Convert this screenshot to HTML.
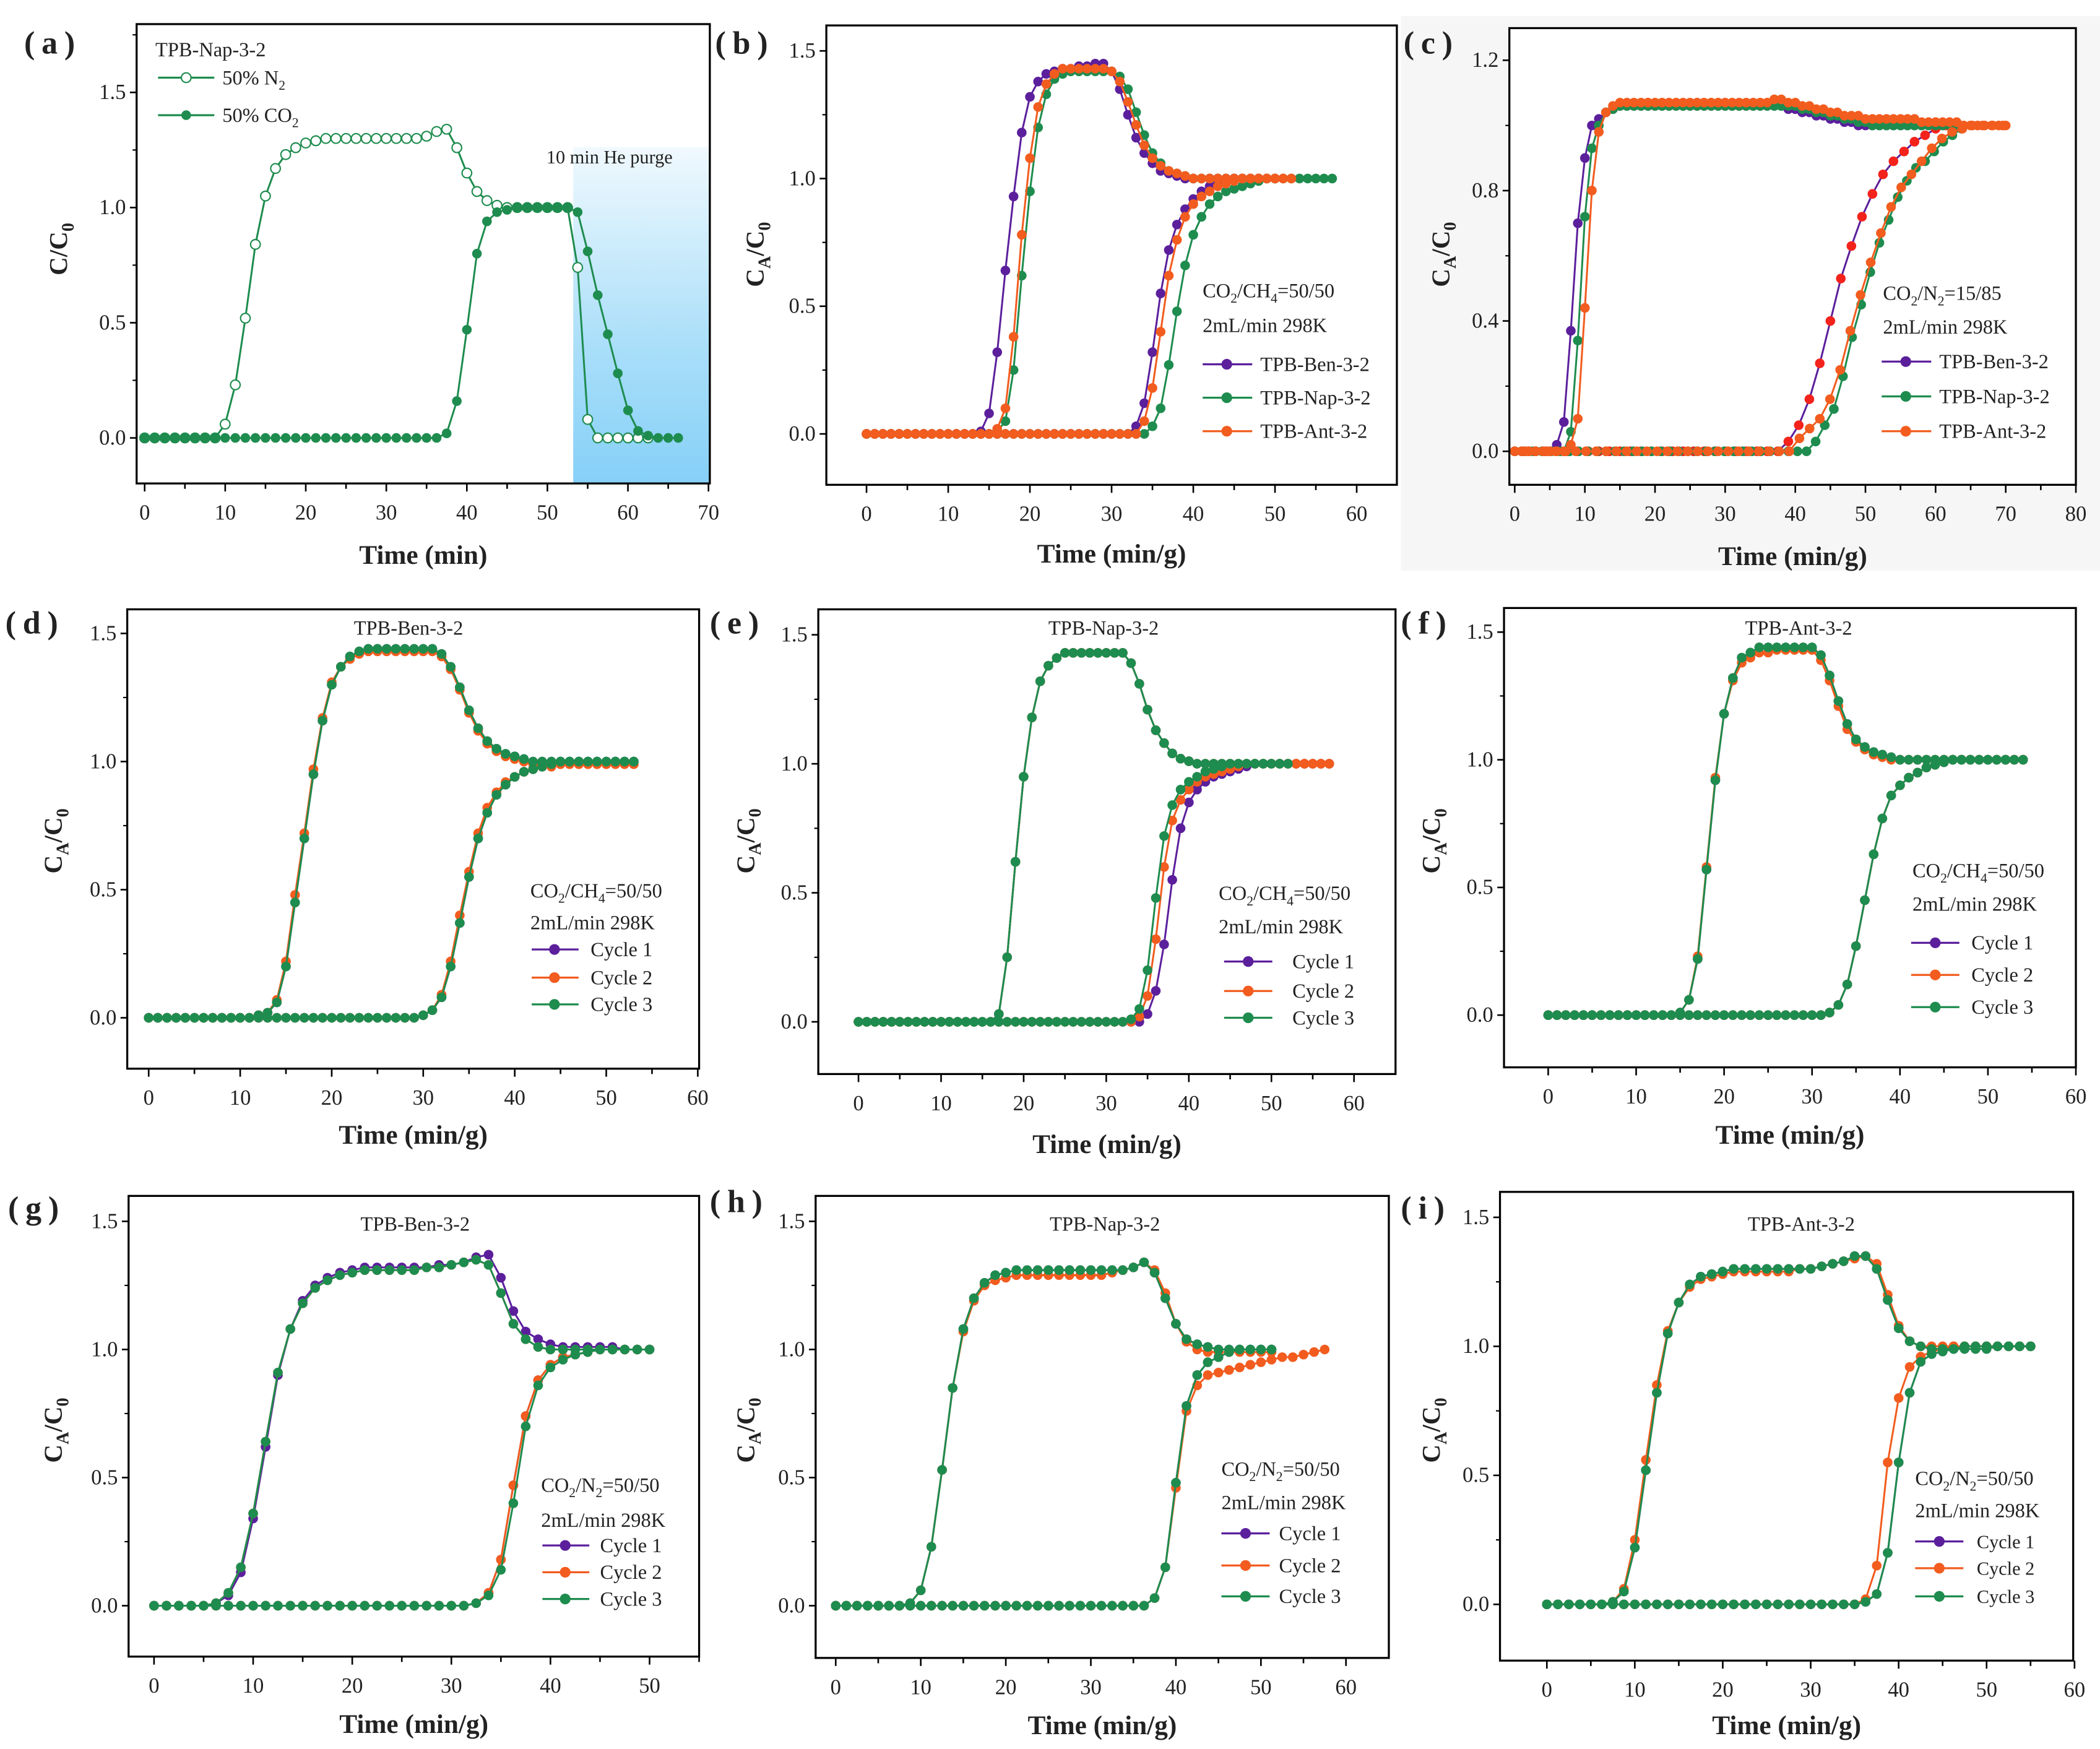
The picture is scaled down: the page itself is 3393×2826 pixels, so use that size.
<!DOCTYPE html>
<html><head><meta charset="utf-8">
<style>
html,body{margin:0;padding:0;background:#fff}
svg{display:block}
text{font-family:"Liberation Serif",serif;fill:#222}
.b{font-weight:bold}
</style></head>
<body>
<svg id="fig" xmlns="http://www.w3.org/2000/svg" width="3393" height="2826" viewBox="0 0 1568 1306">
<defs>
<linearGradient id="purge" x1="0" y1="0" x2="0" y2="1">
<stop offset="0" stop-color="#f0f9fe"/><stop offset="0.6" stop-color="#a9def9"/><stop offset="1" stop-color="#86d0f8"/>
</linearGradient>
</defs>
<rect x="0" y="0" width="1568" height="1306" fill="#fff"/>
<rect x="1046" y="12" width="522" height="414" fill="#f6f6f6"/>
<rect x="428" y="110" width="102" height="251" fill="url(#purge)"/>
<g id="layer"></g>

<!-- static labels -->
<g>
 <text x="18" y="40" font-size="24" class="b" letter-spacing="5">(a)</text>
 <text x="534" y="40" font-size="24" class="b" letter-spacing="5">(b)</text>
 <text x="1048" y="40" font-size="24" class="b" letter-spacing="5">(c)</text>
 <text x="4" y="473" font-size="24" class="b" letter-spacing="5">(d)</text>
 <text x="530" y="473" font-size="24" class="b" letter-spacing="5">(e)</text>
 <text x="1046" y="473" font-size="24" class="b" letter-spacing="5">(f)</text>
 <text x="6" y="910" font-size="24" class="b" letter-spacing="5">(g)</text>
 <text x="530" y="905" font-size="24" class="b" letter-spacing="5">(h)</text>
 <text x="1046" y="910" font-size="24" class="b" letter-spacing="5">(i)</text>

 <text transform="translate(50,186) rotate(-90)" font-size="19" class="b" text-anchor="middle">C/C<tspan font-size="13" dy="5">0</tspan></text>
 <text transform="translate(570,190) rotate(-90)" font-size="19" class="b" text-anchor="middle">C<tspan font-size="13" dy="5">A</tspan><tspan dy="-5">/C</tspan><tspan font-size="13" dy="5">0</tspan></text>
 <text transform="translate(1082,190) rotate(-90)" font-size="19" class="b" text-anchor="middle">C<tspan font-size="13" dy="5">A</tspan><tspan dy="-5">/C</tspan><tspan font-size="13" dy="5">0</tspan></text>
 <text transform="translate(46,628) rotate(-90)" font-size="19" class="b" text-anchor="middle">C<tspan font-size="13" dy="5">A</tspan><tspan dy="-5">/C</tspan><tspan font-size="13" dy="5">0</tspan></text>
 <text transform="translate(563,628) rotate(-90)" font-size="19" class="b" text-anchor="middle">C<tspan font-size="13" dy="5">A</tspan><tspan dy="-5">/C</tspan><tspan font-size="13" dy="5">0</tspan></text>
 <text transform="translate(1075,628) rotate(-90)" font-size="19" class="b" text-anchor="middle">C<tspan font-size="13" dy="5">A</tspan><tspan dy="-5">/C</tspan><tspan font-size="13" dy="5">0</tspan></text>
 <text transform="translate(46,1068) rotate(-90)" font-size="19" class="b" text-anchor="middle">C<tspan font-size="13" dy="5">A</tspan><tspan dy="-5">/C</tspan><tspan font-size="13" dy="5">0</tspan></text>
 <text transform="translate(563,1068) rotate(-90)" font-size="19" class="b" text-anchor="middle">C<tspan font-size="13" dy="5">A</tspan><tspan dy="-5">/C</tspan><tspan font-size="13" dy="5">0</tspan></text>
 <text transform="translate(1075,1068) rotate(-90)" font-size="19" class="b" text-anchor="middle">C<tspan font-size="13" dy="5">A</tspan><tspan dy="-5">/C</tspan><tspan font-size="13" dy="5">0</tspan></text>

 <!-- panel a legend -->
 <text x="116" y="42" font-size="15">TPB-Nap-3-2</text>
 <g><line x1="118" y1="58" x2="160" y2="58" stroke="#1e8c4e" stroke-width="1.5"/><circle cx="139" cy="58" r="3.6" fill="#fff" stroke="#1e8c4e"/><text x="166" y="63" font-size="15">50% N<tspan font-size="10" dy="4">2</tspan></text></g>
 <g><line x1="118" y1="86" x2="160" y2="86" stroke="#1e8c4e" stroke-width="1.5"/><circle cx="139" cy="86" r="3.6" fill="#1e8c4e"/><text x="166" y="91" font-size="15">50% CO<tspan font-size="10" dy="4">2</tspan></text></g>
 <text x="408" y="122" font-size="14">10 min He purge</text>

 <!-- panel b legend -->
 <text x="898" y="222" font-size="15">CO<tspan font-size="10" dy="4">2</tspan><tspan dy="-4">/CH</tspan><tspan font-size="10" dy="4">4</tspan><tspan dy="-4">=50/50</tspan></text>
 <text x="898" y="248" font-size="15">2mL/min 298K</text>
 <g font-size="15">
  <line x1="898" y1="272" x2="935" y2="272" stroke="#5b1f9c" stroke-width="1.5"/><circle cx="916" cy="272" r="4" fill="#5b1f9c"/><text x="941" y="277">TPB-Ben-3-2</text>
  <line x1="898" y1="297" x2="935" y2="297" stroke="#1e8c4e" stroke-width="1.5"/><circle cx="916" cy="297" r="4" fill="#1e8c4e"/><text x="941" y="302">TPB-Nap-3-2</text>
  <line x1="898" y1="322" x2="935" y2="322" stroke="#f25c1e" stroke-width="1.5"/><circle cx="916" cy="322" r="4" fill="#f25c1e"/><text x="941" y="327">TPB-Ant-3-2</text>
 </g>
 <!-- panel c legend -->
 <text x="1406" y="224" font-size="15">CO<tspan font-size="10" dy="4">2</tspan><tspan dy="-4">/N</tspan><tspan font-size="10" dy="4">2</tspan><tspan dy="-4">=15/85</tspan></text>
 <text x="1406" y="249" font-size="15">2mL/min 298K</text>
 <g font-size="15">
  <line x1="1405" y1="270" x2="1442" y2="270" stroke="#5b1f9c" stroke-width="1.5"/><circle cx="1423" cy="270" r="4" fill="#5b1f9c"/><text x="1448" y="275">TPB-Ben-3-2</text>
  <line x1="1405" y1="296" x2="1442" y2="296" stroke="#1e8c4e" stroke-width="1.5"/><circle cx="1423" cy="296" r="4" fill="#1e8c4e"/><text x="1448" y="301">TPB-Nap-3-2</text>
  <line x1="1405" y1="322" x2="1442" y2="322" stroke="#f25c1e" stroke-width="1.5"/><circle cx="1423" cy="322" r="4" fill="#f25c1e"/><text x="1448" y="327">TPB-Ant-3-2</text>
 </g>

 <!-- titles d-i -->
 <text x="305" y="474" font-size="15" text-anchor="middle">TPB-Ben-3-2</text>
 <text x="824" y="474" font-size="15" text-anchor="middle">TPB-Nap-3-2</text>
 <text x="1343" y="474" font-size="15" text-anchor="middle">TPB-Ant-3-2</text>
 <text x="310" y="919" font-size="15" text-anchor="middle">TPB-Ben-3-2</text>
 <text x="825" y="919" font-size="15" text-anchor="middle">TPB-Nap-3-2</text>
 <text x="1345" y="919" font-size="15" text-anchor="middle">TPB-Ant-3-2</text>

 <!-- d legend -->
 <text x="396" y="670" font-size="15">CO<tspan font-size="10" dy="4">2</tspan><tspan dy="-4">/CH</tspan><tspan font-size="10" dy="4">4</tspan><tspan dy="-4">=50/50</tspan></text>
 <text x="396" y="694" font-size="15">2mL/min  298K</text>
 <g font-size="15">
  <line x1="397" y1="709" x2="432" y2="709" stroke="#5b1f9c" stroke-width="1.5"/><circle cx="414" cy="709" r="4" fill="#5b1f9c"/><text x="441" y="714">Cycle 1</text>
  <line x1="397" y1="730" x2="432" y2="730" stroke="#f25c1e" stroke-width="1.5"/><circle cx="414" cy="730" r="4" fill="#f25c1e"/><text x="441" y="735">Cycle 2</text>
  <line x1="397" y1="750" x2="432" y2="750" stroke="#1e8c4e" stroke-width="1.5"/><circle cx="414" cy="750" r="4" fill="#1e8c4e"/><text x="441" y="755">Cycle 3</text>
 </g>
 <!-- e legend -->
 <text x="910" y="672" font-size="15">CO<tspan font-size="10" dy="4">2</tspan><tspan dy="-4">/CH</tspan><tspan font-size="10" dy="4">4</tspan><tspan dy="-4">=50/50</tspan></text>
 <text x="910" y="697" font-size="15">2mL/min  298K</text>
 <g font-size="15">
  <line x1="914" y1="718" x2="950" y2="718" stroke="#5b1f9c" stroke-width="1.5"/><circle cx="932" cy="718" r="4" fill="#5b1f9c"/><text x="965" y="723">Cycle 1</text>
  <line x1="914" y1="740" x2="950" y2="740" stroke="#f25c1e" stroke-width="1.5"/><circle cx="932" cy="740" r="4" fill="#f25c1e"/><text x="965" y="745">Cycle 2</text>
  <line x1="914" y1="760" x2="950" y2="760" stroke="#1e8c4e" stroke-width="1.5"/><circle cx="932" cy="760" r="4" fill="#1e8c4e"/><text x="965" y="765">Cycle 3</text>
 </g>
 <!-- f legend -->
 <text x="1428" y="655" font-size="15">CO<tspan font-size="10" dy="4">2</tspan><tspan dy="-4">/CH</tspan><tspan font-size="10" dy="4">4</tspan><tspan dy="-4">=50/50</tspan></text>
 <text x="1428" y="680" font-size="15">2mL/min 298K</text>
 <g font-size="15">
  <line x1="1427" y1="704" x2="1463" y2="704" stroke="#5b1f9c" stroke-width="1.5"/><circle cx="1445" cy="704" r="4" fill="#5b1f9c"/><text x="1472" y="709">Cycle 1</text>
  <line x1="1427" y1="728" x2="1463" y2="728" stroke="#f25c1e" stroke-width="1.5"/><circle cx="1445" cy="728" r="4" fill="#f25c1e"/><text x="1472" y="733">Cycle 2</text>
  <line x1="1427" y1="752" x2="1463" y2="752" stroke="#1e8c4e" stroke-width="1.5"/><circle cx="1445" cy="752" r="4" fill="#1e8c4e"/><text x="1472" y="757">Cycle 3</text>
 </g>
 <!-- g legend -->
 <text x="404" y="1114" font-size="15">CO<tspan font-size="10" dy="4">2</tspan><tspan dy="-4">/N</tspan><tspan font-size="10" dy="4">2</tspan><tspan dy="-4">=50/50</tspan></text>
 <text x="404" y="1140" font-size="15">2mL/min  298K</text>
 <g font-size="15">
  <line x1="405" y1="1154" x2="440" y2="1154" stroke="#5b1f9c" stroke-width="1.5"/><circle cx="422" cy="1154" r="4" fill="#5b1f9c"/><text x="448" y="1159">Cycle 1</text>
  <line x1="405" y1="1174" x2="440" y2="1174" stroke="#f25c1e" stroke-width="1.5"/><circle cx="422" cy="1174" r="4" fill="#f25c1e"/><text x="448" y="1179">Cycle 2</text>
  <line x1="405" y1="1194" x2="440" y2="1194" stroke="#1e8c4e" stroke-width="1.5"/><circle cx="422" cy="1194" r="4" fill="#1e8c4e"/><text x="448" y="1199">Cycle 3</text>
 </g>
 <!-- h legend -->
 <text x="912" y="1102" font-size="15">CO<tspan font-size="10" dy="4">2</tspan><tspan dy="-4">/N</tspan><tspan font-size="10" dy="4">2</tspan><tspan dy="-4">=50/50</tspan></text>
 <text x="912" y="1127" font-size="15">2mL/min  298K</text>
 <g font-size="15">
  <line x1="912" y1="1145" x2="948" y2="1145" stroke="#5b1f9c" stroke-width="1.5"/><circle cx="930" cy="1145" r="4" fill="#5b1f9c"/><text x="955" y="1150">Cycle 1</text>
  <line x1="912" y1="1169" x2="948" y2="1169" stroke="#f25c1e" stroke-width="1.5"/><circle cx="930" cy="1169" r="4" fill="#f25c1e"/><text x="955" y="1174">Cycle 2</text>
  <line x1="912" y1="1192" x2="948" y2="1192" stroke="#1e8c4e" stroke-width="1.5"/><circle cx="930" cy="1192" r="4" fill="#1e8c4e"/><text x="955" y="1197">Cycle 3</text>
 </g>
 <!-- i legend -->
 <text x="1430" y="1109" font-size="15">CO<tspan font-size="10" dy="4">2</tspan><tspan dy="-4">/N</tspan><tspan font-size="10" dy="4">2</tspan><tspan dy="-4">=50/50</tspan></text>
 <text x="1430" y="1133" font-size="15">2mL/min 298K</text>
 <g font-size="14">
  <line x1="1430" y1="1151" x2="1466" y2="1151" stroke="#5b1f9c" stroke-width="1.5"/><circle cx="1448" cy="1151" r="4" fill="#5b1f9c"/><text x="1476" y="1156">Cycle 1</text>
  <line x1="1430" y1="1171" x2="1466" y2="1171" stroke="#f25c1e" stroke-width="1.5"/><circle cx="1448" cy="1171" r="4" fill="#f25c1e"/><text x="1476" y="1176">Cycle 2</text>
  <line x1="1430" y1="1192" x2="1466" y2="1192" stroke="#1e8c4e" stroke-width="1.5"/><circle cx="1448" cy="1192" r="4" fill="#1e8c4e"/><text x="1476" y="1197">Cycle 3</text>
 </g>
</g>
</svg>
<script>
// ---------- data ----------
const aN2=[0,0,0,0,0,0,0,0,0.06,0.23,0.52,0.84,1.05,1.17,1.23,1.26,1.28,1.29,1.30,1.30,1.30,1.30,1.30,1.30,1.30,1.30,1.30,1.30,1.31,1.33,1.34,1.26,1.15,1.07,1.03,1.01,1,1,1,1,1,1,1,0.74,0.08,0,0,0,0,0,0];
const aCO2=[0,0,0,0,0,0,0,0,0,0,0,0,0,0,0,0,0,0,0,0,0,0,0,0,0,0,0,0,0,0,0.02,0.16,0.47,0.80,0.94,0.98,0.99,1,1,1,1,1,1,0.98,0.81,0.62,0.45,0.28,0.12,0.03,0.01,0,0,0];

const bBenCH4=[0,0,0,0,0,0,0,0,0,0,0,0,0,0,0.01,0.08,0.32,0.64,0.93,1.18,1.32,1.38,1.41,1.42,1.43,1.43,1.44,1.44,1.45,1.45,1.42,1.35,1.25,1.16,1.10,1.06,1.03,1.02,1.01,1,1,1,1,1,1,1,1,1,1];
const bNapCH4=[0,0,0,0,0,0,0,0,0,0,0,0,0,0,0,0,0.01,0.05,0.25,0.62,0.95,1.2,1.33,1.39,1.41,1.42,1.42,1.42,1.42,1.42,1.42,1.40,1.35,1.26,1.17,1.10,1.06,1.03,1.02,1.01,1,1,1,1,1,1,1,1,1,1,1];
const bAntCH4=[0,0,0,0,0,0,0,0,0,0,0,0,0,0,0,0,0.02,0.10,0.38,0.78,1.08,1.28,1.37,1.41,1.43,1.43,1.43,1.43,1.43,1.43,1.42,1.38,1.30,1.21,1.13,1.08,1.05,1.03,1.02,1.01,1,1,1,1,1,1,1,1,1,1,1];
const bBenCO2=[0,0,0,0,0,0,0,0,0,0,0,0,0,0,0,0,0,0,0,0,0,0,0,0,0,0,0,0,0,0,0,0,0,0.03,0.12,0.32,0.55,0.72,0.82,0.88,0.92,0.95,0.97,0.98,0.99,1,1,1,1,1,1];
const bAntCO2=[0,0,0,0,0,0,0,0,0,0,0,0,0,0,0,0,0,0,0,0,0,0,0,0,0,0,0,0,0,0,0,0,0,0,0.05,0.18,0.40,0.62,0.76,0.85,0.90,0.93,0.95,0.97,0.98,0.99,1,1,1,1,1,1,1];
const bNapCO2=[0,0,0,0,0,0,0,0,0,0,0,0,0,0,0,0,0,0,0,0,0,0,0,0,0,0,0,0,0,0,0,0,0,0,0,0.03,0.10,0.27,0.48,0.66,0.78,0.85,0.90,0.93,0.95,0.96,0.97,0.98,0.99,1,1,1,1,1,1,1,1,1];

const cBenN2=[0,0,0,0,0,0,0.02,0.09,0.37,0.70,0.90,1.0,1.02,1.04,1.05,1.06,1.06,1.06,1.06,1.06,1.06,1.06,1.06,1.06,1.06,1.06,1.06,1.06,1.06,1.06,1.06,1.06,1.06,1.06,1.06,1.06,1.06,1.06,1.06,1.05,1.05,1.04,1.04,1.03,1.03,1.02,1.02,1.01,1.01,1,1,1,1,1,1,1,1,1,1,1,1,1,1];
const cNapN2=[0,0,0,0,0,0,0,0,0.06,0.34,0.72,0.93,1.0,1.04,1.05,1.06,1.06,1.06,1.06,1.06,1.06,1.06,1.06,1.06,1.06,1.06,1.06,1.06,1.06,1.06,1.06,1.06,1.06,1.06,1.06,1.06,1.06,1.06,1.06,1.06,1.06,1.05,1.05,1.04,1.04,1.03,1.03,1.02,1.02,1.01,1.01,1,1,1,1,1,1,1,1,1,1,1,1,1];
const cAntN2=[0,0,0,0,0,0,0,0,0.02,0.10,0.44,0.80,0.98,1.04,1.06,1.07,1.07,1.07,1.07,1.07,1.07,1.07,1.07,1.07,1.07,1.07,1.07,1.07,1.07,1.07,1.07,1.07,1.07,1.07,1.07,1.07,1.07,1.08,1.08,1.07,1.07,1.06,1.06,1.05,1.05,1.04,1.04,1.03,1.03,1.03,1.02,1.02,1.02,1.02,1.02,1.02,1.02,1.02,1.01,1.01,1.01,1.01,1.01,1.01,1,1,1,1,1,1,1];
const cBenCO2=[0,0,0,0,0,0,0,0,0,0,0,0,0,0,0,0,0,0,0,0,0,0,0,0,0,0,0.03,0.08,0.16,0.27,0.40,0.53,0.63,0.72,0.79,0.85,0.89,0.92,0.95,0.97,0.99,1,1];
const cAntCO2=[0,0,0,0,0,0,0,0,0,0,0,0,0,0,0,0,0,0,0,0,0,0,0,0,0,0,0,0,0.04,0.07,0.10,0.16,0.25,0.37,0.48,0.58,0.67,0.75,0.81,0.85,0.89,0.93,0.96,0.98,0.99,1,1,1,1];
const cNapCO2=[0,0,0,0,0,0,0,0,0,0,0,0,0,0,0,0,0,0,0,0,0,0,0,0,0,0,0,0,0,0,0,0,0,0.03,0.08,0.13,0.23,0.35,0.45,0.55,0.64,0.71,0.78,0.83,0.87,0.89,0.92,0.95,0.97,0.99,1];

const dC1CH4=[0,0,0,0,0,0,0,0,0,0,0,0,0.01,0.02,0.06,0.20,0.45,0.70,0.95,1.16,1.30,1.37,1.41,1.43,1.44,1.44,1.44,1.44,1.44,1.44,1.44,1.44,1.42,1.37,1.29,1.20,1.13,1.08,1.05,1.03,1.02,1.01,1,1,1,1,1,1,1,1,1,1,1,1];
const dC2CH4=[0,0,0,0,0,0,0,0,0,0,0,0,0.01,0.02,0.07,0.22,0.48,0.72,0.97,1.17,1.31,1.37,1.40,1.42,1.43,1.43,1.43,1.43,1.43,1.43,1.43,1.43,1.41,1.36,1.28,1.19,1.12,1.07,1.04,1.02,1.01,1.0,0.99,0.99,0.99,0.99,0.99,0.99,0.99,0.99,0.99,0.99,0.99,0.99];
const dC1CO2=[0,0,0,0,0,0,0,0,0,0,0,0,0,0,0,0,0,0,0,0,0,0,0,0,0,0,0,0,0,0,0.01,0.03,0.08,0.20,0.37,0.55,0.70,0.80,0.87,0.91,0.94,0.96,0.97,0.98,0.99,1,1,1,1,1,1,1,1,1];
const dC2CO2=[0,0,0,0,0,0,0,0,0,0,0,0,0,0,0,0,0,0,0,0,0,0,0,0,0,0,0,0,0,0,0.01,0.03,0.09,0.22,0.40,0.57,0.72,0.82,0.88,0.92,0.94,0.96,0.97,0.98,0.98,0.99,0.99,0.99,0.99,0.99,0.99,0.99,0.99,0.99];

const eCH4=[0,0,0,0,0,0,0,0,0,0,0,0,0,0,0,0,0,0.03,0.25,0.62,0.95,1.18,1.32,1.38,1.41,1.43,1.43,1.43,1.43,1.43,1.43,1.43,1.43,1.39,1.31,1.21,1.13,1.08,1.04,1.02,1.01,1,1,1,1,1,1,1,1,1,1,1,1,1,1,1,1,1];
const eC1CO2=[0,0,0,0,0,0,0,0,0,0,0,0,0,0,0,0,0,0,0,0,0,0,0,0,0,0,0,0,0,0,0,0,0,0,0,0.03,0.12,0.30,0.55,0.75,0.85,0.90,0.93,0.95,0.96,0.97,0.98,0.99,1,1,1,1,1,1,1,1,1,1];
const eC2CO2=[0,0,0,0,0,0,0,0,0,0,0,0,0,0,0,0,0,0,0,0,0,0,0,0,0,0,0,0,0,0,0,0,0,0,0.02,0.10,0.32,0.60,0.78,0.86,0.90,0.93,0.95,0.96,0.97,0.98,0.99,1,1,1,1,1,1,1,1,1,1,1];
const eC3CO2=[0,0,0,0,0,0,0,0,0,0,0,0,0,0,0,0,0,0,0,0,0,0,0,0,0,0,0,0,0,0,0,0,0,0.01,0.05,0.20,0.48,0.72,0.84,0.90,0.93,0.95,0.97,0.98,0.99,1,1,1,1,1,1,1,1];
const eC3CH4=[0,0,0,0,0,0,0,0,0,0,0,0,0,0,0,0,0,0.03,0.25,0.62,0.95,1.18,1.32,1.38,1.41,1.43,1.43,1.43,1.43,1.43,1.43,1.43,1.43,1.39,1.31,1.21,1.13,1.08,1.04,1.02,1.01,1,1,1,1,1,1,1,1,1,1,1];

const fCH4=[0,0,0,0,0,0,0,0,0,0,0,0,0,0,0,0.01,0.06,0.22,0.57,0.92,1.18,1.32,1.40,1.42,1.44,1.44,1.44,1.44,1.44,1.44,1.44,1.41,1.33,1.23,1.14,1.08,1.05,1.03,1.02,1.01,1,1,1,1,1,1,1,1,1,1,1,1,1];
const fC2CH4=[0,0,0,0,0,0,0,0,0,0,0,0,0,0,0,0.01,0.06,0.23,0.58,0.93,1.18,1.31,1.38,1.40,1.42,1.42,1.43,1.43,1.43,1.43,1.43,1.39,1.31,1.21,1.12,1.07,1.04,1.02,1.01,1,1,1,1,1,1,1,1,1,1,1,1,1,1,1,1];
const fCO2=[0,0,0,0,0,0,0,0,0,0,0,0,0,0,0,0,0,0,0,0,0,0,0,0,0,0,0,0,0,0,0,0,0.01,0.04,0.12,0.27,0.45,0.63,0.77,0.86,0.90,0.93,0.95,0.97,0.98,0.99,1,1,1,1,1,1,1,1,1];

const gN2=[0,0,0,0,0,0.01,0.04,0.13,0.34,0.62,0.90,1.08,1.19,1.25,1.28,1.30,1.31,1.32,1.32,1.32,1.32,1.32,1.32,1.33,1.33,1.34,1.36,1.37,1.28,1.15,1.07,1.04,1.02,1.01,1.01,1.01,1.01,1.01,1,1,1];
const gC2N2=[0,0,0,0,0,0.01,0.05,0.15,0.36,0.64,0.91,1.08,1.18,1.24,1.27,1.29,1.30,1.31,1.31,1.31,1.31,1.31,1.32,1.32,1.33,1.34,1.35,1.33,1.22,1.10,1.04,1.01,1.0,1.0,1.0,1.0,1.0,1.0,1,1,1];
const gCO2=[0,0,0,0,0,0,0,0,0,0,0,0,0,0,0,0,0,0,0,0,0,0,0,0,0,0,0.01,0.05,0.18,0.47,0.74,0.88,0.94,0.97,0.98,0.99,1,1,1,1,1];
const gC3CO2=[0,0,0,0,0,0,0,0,0,0,0,0,0,0,0,0,0,0,0,0,0,0,0,0,0,0,0.01,0.04,0.14,0.40,0.70,0.86,0.93,0.96,0.98,0.99,1,1,1,1,1];

const hN2=[0,0,0,0,0,0,0,0.01,0.06,0.23,0.53,0.85,1.08,1.20,1.26,1.29,1.30,1.31,1.31,1.31,1.31,1.31,1.31,1.31,1.31,1.31,1.31,1.31,1.32,1.34,1.30,1.20,1.10,1.04,1.02,1.01,1,1,1,1,1,1];
const hC2N2=[0,0,0,0,0,0,0,0.01,0.06,0.23,0.53,0.85,1.07,1.19,1.25,1.27,1.28,1.29,1.29,1.29,1.29,1.29,1.29,1.29,1.29,1.29,1.30,1.31,1.32,1.34,1.31,1.22,1.10,1.03,1.0,0.99,0.99,0.99,0.99,0.99,0.99,0.99];
const hCO2=[0,0,0,0,0,0,0,0,0,0,0,0,0,0,0,0,0,0,0,0,0,0,0,0,0,0,0,0,0,0,0.03,0.15,0.48,0.78,0.90,0.95,0.97,0.99,1,1,1,1];
const hC2CO2=[0,0,0,0,0,0,0,0,0,0,0,0,0,0,0,0,0,0,0,0,0,0,0,0,0,0,0,0,0,0,0.03,0.15,0.46,0.76,0.86,0.90,0.91,0.92,0.93,0.94,0.95,0.96,0.97,0.97,0.98,0.99,1.0];

const iN2=[0,0,0,0,0,0,0.01,0.05,0.22,0.52,0.82,1.05,1.17,1.24,1.27,1.28,1.29,1.30,1.30,1.30,1.30,1.30,1.30,1.30,1.30,1.31,1.32,1.33,1.35,1.35,1.30,1.18,1.07,1.02,1.0,0.99,0.99,0.99,0.99,0.99,0.99,1,1,1,1];
const iC2N2=[0,0,0,0,0,0,0.01,0.06,0.25,0.56,0.85,1.06,1.17,1.23,1.26,1.27,1.28,1.29,1.29,1.29,1.29,1.29,1.29,1.30,1.30,1.31,1.32,1.33,1.34,1.35,1.32,1.20,1.08,1.02,1.0,1.0,1.0,1.0,1.0,1.0,1.0,1,1,1,1];
const iCO2=[0,0,0,0,0,0,0,0,0,0,0,0,0,0,0,0,0,0,0,0,0,0,0,0,0,0,0,0,0,0.01,0.04,0.20,0.55,0.82,0.94,0.97,0.98,0.99,1,1,1,1,1,1,1];
const iC2CO2=[0,0,0,0,0,0,0,0,0,0,0,0,0,0,0,0,0,0,0,0,0,0,0,0,0,0,0,0,0,0.02,0.15,0.55,0.80,0.92,0.96,0.98,0.99,1,1,1,1,1,1,1,1];

const yTicks15=[0,0.5,1.0,1.5];
const yTicks15Lab=["0.0","0.5","1.0","1.5"];
const yTicksC=[0,0.4,0.8,1.2];
const yTicksCLab=["0.0","0.4","0.8","1.2"];
const xTicks70=[0,10,20,30,40,50,60,70];
const xTicks60=[0,10,20,30,40,50,60];
const xTicks80=[0,10,20,30,40,50,60,70,80];
const xTicks50=[0,10,20,30,40,50];

// ---------- styling / layout ----------
const P='#5b1f9c',G='#1e8c4e',O='#f25c1e',R='#f3231c';
const NS='http://www.w3.org/2000/svg';
const layer=document.getElementById('layer');
function el(tag,attrs,parent){const e=document.createElementNS(NS,tag);for(const k in attrs)e.setAttribute(k,attrs[k]);(parent||layer).appendChild(e);return e;}

const panels=[
 {id:'a',box:[102,18,530,361],xp:[108,529],xv:[0,70],yp:[327,69],yv:[0,1.5],xt:xTicks70,yt:yTicks15,yl:yTicks15Lab,xlab:'Time (min)',tl:60,
  series:[{y:aN2,x0:0,dx:1.25,c:G,open:true,n:'n2'},{y:aCO2,x0:0,dx:1.25,c:G,n:'co2'}]},
 {id:'b',box:[617,19,1043,362],xp:[647,1013],xv:[0,60],yp:[324,38],yv:[0,1.5],xt:xTicks60,yt:yTicks15,yl:yTicks15Lab,xlab:'Time (min/g)',tl:58,
  series:[{y:bBenCH4,x0:0,dx:1,c:P,n:'ben-ch4'},{y:bBenCO2,x0:0,dx:1,c:P,n:'ben-co2'},{y:bNapCH4,x0:0,dx:1,c:G,n:'nap-ch4'},{y:bNapCO2,x0:0,dx:1,c:G,n:'nap-co2'},{y:bAntCH4,x0:0,dx:1,c:O,n:'ant-ch4'},{y:bAntCO2,x0:0,dx:1,c:O,n:'ant-co2'}]},
 {id:'c',box:[1127,21,1550,362],xp:[1131,1550],xv:[0,80],yp:[337,45],yv:[0,1.2],xt:xTicks80,yt:yTicksC,yl:yTicksCLab,xlab:'Time (min/g)',tl:60,bg:true,
  series:[{y:cBenN2,x0:0,dx:1,c:P,n:'ben-n2'},{y:cBenCO2,x0:0,dx:1.5,c:P,mc:R,n:'ben-co2'},{y:cNapN2,x0:0,dx:1,c:G,n:'nap-n2'},{y:cNapCO2,x0:0,dx:1.3,c:G,n:'nap-co2'},{y:cAntN2,x0:0,dx:1,c:O,n:'ant-n2'},{y:cAntCO2,x0:0,dx:1.45,c:O,n:'ant-co2'}]},
 {id:'d',box:[95,455,522,798],xp:[111,521],xv:[0,60],yp:[760,473],yv:[0,1.5],xt:xTicks60,yt:yTicks15,yl:yTicks15Lab,xlab:'Time (min/g)',tl:56,
  series:[{y:dC1CH4,x0:0,dx:1,c:P,n:'cycle1-ch4'},{y:dC1CO2,x0:0,dx:1,c:P,n:'cycle1-co2'},{y:dC2CH4,x0:0,dx:1,c:O,n:'cycle2-ch4'},{y:dC2CO2,x0:0,dx:1,c:O,n:'cycle2-co2'},{y:dC1CH4,x0:0,dx:1,c:G,n:'cycle3-ch4'},{y:dC1CO2,x0:0,dx:1,c:G,n:'cycle3-co2'}]},
 {id:'e',box:[611,455,1042,802],xp:[641,1011],xv:[0,60],yp:[763,474],yv:[0,1.5],xt:xTicks60,yt:yTicks15,yl:yTicks15Lab,xlab:'Time (min/g)',tl:59,
  series:[{y:eCH4,x0:0,dx:1,c:P,n:'cycle1-ch4'},{y:eC1CO2,x0:0,dx:1,c:P,n:'cycle1-co2'},{y:eCH4,x0:0,dx:1,c:O,n:'cycle2-ch4'},{y:eC2CO2,x0:0,dx:1,c:O,n:'cycle2-co2'},{y:eC3CH4,x0:0,dx:1,c:G,n:'cycle3-ch4'},{y:eC3CO2,x0:0,dx:1,c:G,n:'cycle3-co2'}]},
 {id:'f',box:[1123,454,1550,797],xp:[1156,1550],xv:[0,60],yp:[758,472],yv:[0,1.5],xt:xTicks60,yt:yTicks15,yl:yTicks15Lab,xlab:'Time (min/g)',tl:57,
  series:[{y:fCH4,x0:0,dx:1,c:P,n:'cycle1-ch4'},{y:fCO2,x0:0,dx:1,c:P,n:'cycle1-co2'},{y:fC2CH4,x0:0,dx:1,c:O,n:'cycle2-ch4'},{y:fCO2,x0:0,dx:1,c:O,n:'cycle2-co2'},{y:fCH4,x0:0,dx:1,c:G,n:'cycle3-ch4'},{y:fCO2,x0:0,dx:1,c:G,n:'cycle3-co2'}]},
 {id:'g',box:[96,893,522,1237],xp:[115,485],xv:[0,50],yp:[1199,912],yv:[0,1.5],xt:xTicks50,yt:yTicks15,yl:yTicks15Lab,xlab:'Time (min/g)',tl:57,xmax:55,
  series:[{y:gN2,x0:0,dx:1.25,c:P,n:'cycle1-n2'},{y:gCO2,x0:0,dx:1.25,c:P,n:'cycle1-co2'},{y:gC2N2,x0:0,dx:1.25,c:O,n:'cycle2-n2'},{y:gCO2,x0:0,dx:1.25,c:O,n:'cycle2-co2'},{y:gC2N2,x0:0,dx:1.25,c:G,n:'cycle3-n2'},{y:gC3CO2,x0:0,dx:1.25,c:G,n:'cycle3-co2'}]},
 {id:'h',box:[609,893,1037,1238],xp:[624,1005],xv:[0,60],yp:[1199,912],yv:[0,1.5],xt:xTicks60,yt:yTicks15,yl:yTicks15Lab,xlab:'Time (min/g)',tl:57,
  series:[{y:hN2,x0:0,dx:1.25,c:P,n:'cycle1-n2'},{y:hCO2,x0:0,dx:1.25,c:P,n:'cycle1-co2'},{y:hC2N2,x0:0,dx:1.25,c:O,n:'cycle2-n2'},{y:hC2CO2,x0:0,dx:1.25,c:O,n:'cycle2-co2'},{y:hN2,x0:0,dx:1.25,c:G,n:'cycle3-n2'},{y:hCO2,x0:0,dx:1.25,c:G,n:'cycle3-co2'}]},
 {id:'i',box:[1120,890,1548,1240],xp:[1155,1549],xv:[0,60],yp:[1198,909],yv:[0,1.5],xt:xTicks60,yt:yTicks15,yl:yTicks15Lab,xlab:'Time (min/g)',tl:55,
  series:[{y:iN2,x0:0,dx:1.25,c:P,n:'cycle1-n2'},{y:iCO2,x0:0,dx:1.25,c:P,n:'cycle1-co2'},{y:iC2N2,x0:0,dx:1.25,c:O,n:'cycle2-n2'},{y:iC2CO2,x0:0,dx:1.25,c:O,n:'cycle2-co2'},{y:iN2,x0:0,dx:1.25,c:G,n:'cycle3-n2'},{y:iCO2,x0:0,dx:1.25,c:G,n:'cycle3-co2'}]}
];

panels.forEach(p=>{
  const g=el('g',{});
  
  
  const X=v=>p.xp[0]+(v-p.xv[0])*(p.xp[1]-p.xp[0])/(p.xv[1]-p.xv[0]);
  const Y=v=>p.yp[0]+(v-p.yv[0])*(p.yp[1]-p.yp[0])/(p.yv[1]-p.yv[0]);
  const [l,t,r,b]=p.box;
  if(p.bg){const bg=el('rect',{x:l,y:t,width:r-l,height:b-t,fill:'#fff'},g);
    
    }
  p.series.forEach(s=>{
    const pts=s.y.map((v,i)=>[X(s.x0+i*s.dx),Y(v)]);
    const line=el('polyline',{points:pts.map(q=>q[0].toFixed(1)+','+q[1].toFixed(1)).join(' '),fill:'none',stroke:s.c,'stroke-width':1.4},g);
    
    
    pts.forEach(q=>{
      const c=el('circle',{cx:q[0].toFixed(1),cy:q[1].toFixed(1),r:3.6,fill:s.open?'#fff':(s.mc||s.c),stroke:s.open?s.c:'none','stroke-width':1},g);
      
      
    });
  });
  const fr=el('rect',{x:l,y:t,width:r-l,height:b-t,fill:'none',stroke:'#000','stroke-width':1.5},g);
  
  
  const stepX=p.xt[1]-p.xt[0];
  const xLast=p.xmax!==undefined?p.xmax:p.xt[p.xt.length-1];
  for(let v=p.xt[0]; v<=xLast+0.001; v+=stepX/2){
    const x=X(v);
    const major=Math.abs(v/stepX-Math.round(v/stepX))<0.01;
    const tk=el('line',{x1:x,y1:b,x2:x,y2:b+(major?6:4),stroke:'#000','stroke-width':1.2},g);
    
    
  }
  p.xt.forEach(v=>{
    const tx=el('text',{x:X(v),y:b+27,'font-size':16,'text-anchor':'middle'},g);tx.textContent=String(v);
    
    
  });
  p.yt.forEach((v,i)=>{
    const y=Y(v);
    const tk=el('line',{x1:l-5,y1:y,x2:l,y2:y,stroke:'#000','stroke-width':1.2},g);
    
    
    const step=p.yt[1]-p.yt[0];
    const ym=Y(v+step/2);
    if(ym>t){const mt=el('line',{x1:l-3,y1:ym,x2:l,y2:ym,stroke:'#000','stroke-width':1},g);
      
      }
    const tx=el('text',{x:l-8,y:y+5,'font-size':16,'text-anchor':'end'},g);tx.textContent=p.yl[i];
    
    
  });
  const xl=el('text',{x:(l+r)/2,y:b+p.tl,'font-size':20,'text-anchor':'middle','class':'b'},g);xl.textContent=p.xlab;
  
  
});
</script>
</body></html>
